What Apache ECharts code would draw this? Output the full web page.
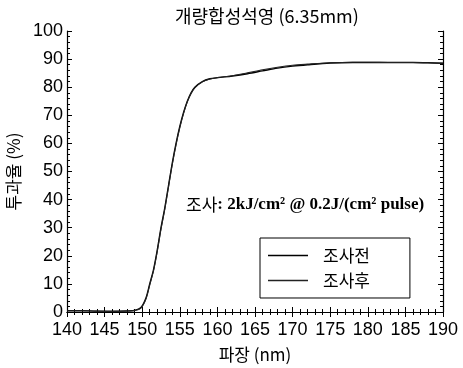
<!DOCTYPE html>
<html><head><meta charset="utf-8">
<script src="https://cdn.jsdelivr.net/npm/echarts@6/dist/echarts.min.js"></script>
<style>html,body{margin:0;padding:0;background:#fff}#c{width:463px;height:368px}</style>
</head><body><div id="c"></div>
<script>
const titleText = '개량합성석영 (6.35mm)';
const xName = '파장 (nm)';
const yName = '투과율 (%)';
const seriesNames = ['조사전', '조사후'];
const annotation = ': 2kJ/cm² @ 0.2J/(cm² pulse)';
const wavelength = [140,142,144,146,148,149,149.8,150.5,151,151.5,152,152.5,153,153.5,154,154.5,155,155.5,156,156.5,157,158,159,160,162,164,166,168,170,172,175,178,180,183,186,188,190];
const before     = [0.5,0.5,0.3,0.3,0.4,0.6,1.5,5,10,15,22,30,37,45,53,60,66,71,75,78,80,82,83,83.4,84,84.8,85.8,86.8,87.5,88,88.6,88.8,88.8,88.8,88.8,88.7,88.5];
const after      = [0.4,0.4,0.3,0.2,0.3,0.5,1.3,4.6,9.6,14.6,21.5,29.5,36.5,44.5,52.5,59.5,65.6,70.7,74.8,77.8,79.8,81.9,82.9,83.4,84.1,85.1,86.2,87.1,87.8,88.2,88.7,88.9,88.9,88.8,88.8,88.7,88.5];

const chart = echarts.init(document.getElementById('c'));
const axisCommon = {
  axisLine:{show:true,lineStyle:{color:'#000',width:1.2}},
  axisTick:{show:true,inside:true,length:5,lineStyle:{color:'#000'}},
  minorTick:{show:true,splitNumber:5,length:3,lineStyle:{color:'#000'}},
  splitLine:{show:false}
};
chart.setOption({
  animation:false,
  backgroundColor:'#fff',
  title:{text:titleText,left:170,top:2,textStyle:{fontFamily:'Noto Sans CJK KR',fontSize:18,fontWeight:'normal',color:'#000'}},
  grid:{left:67,right:20,top:31,bottom:56,outerBoundsMode:'none',containLabel:false},
  legend:{
    data:seriesNames,orient:'vertical',left:260,top:238,icon:'rect',
    padding:[9,40,9,8],borderColor:'#000',borderWidth:1,
    itemWidth:40,itemHeight:1.5,itemGap:8,
    textStyle:{fontFamily:'Noto Sans CJK KR',fontSize:17,color:'#000',padding:[0,0,0,10]}
  },
  xAxis:[
    Object.assign({type:'value',min:140,max:190,interval:5,position:'bottom',
      name:xName,nameLocation:'middle',nameGap:34,
      nameTextStyle:{fontFamily:'Noto Sans CJK KR',fontSize:17,color:'#000'},
      axisLabel:{fontFamily:'Liberation Sans',fontSize:18,color:'#000',margin:9}},axisCommon),
    Object.assign({type:'value',min:140,max:190,interval:5,position:'top',axisLabel:{show:false}},axisCommon)
  ],
  yAxis:[
    Object.assign({type:'value',min:0,max:100,interval:10,position:'left',
      name:yName,nameLocation:'middle',nameGap:42,
      nameTextStyle:{fontFamily:'Noto Sans CJK KR',fontSize:17,color:'#000'},
      axisLabel:{fontFamily:'Liberation Sans',fontSize:18,color:'#000',margin:4}},axisCommon),
    Object.assign({type:'value',min:0,max:100,interval:10,position:'right',axisLabel:{show:false}},axisCommon)
  ],
  graphic:[{type:'text',left:186,top:196,style:{
    rich:{a:{fontFamily:'Noto Sans CJK KR',fontSize:17,fill:'#000'},b:{fontFamily:'Liberation Serif',fontSize:17,fill:'#000',fontWeight:'bold'}},
    text:'{a|조사}{b|'+annotation+'}'}}],
  series:[
    {name:seriesNames[0],type:'line',smooth:0.3,showSymbol:false,symbol:'none',
     lineStyle:{color:'#000',width:1.4},itemStyle:{color:'#000'},
     data:wavelength.map((w,i)=>[w,before[i]])},
    {name:seriesNames[1],type:'line',smooth:0.3,showSymbol:false,symbol:'none',
     lineStyle:{color:'#222',width:1.1},itemStyle:{color:'#222'},
     data:wavelength.map((w,i)=>[w,after[i]])}
  ]
});
</script></body></html>
